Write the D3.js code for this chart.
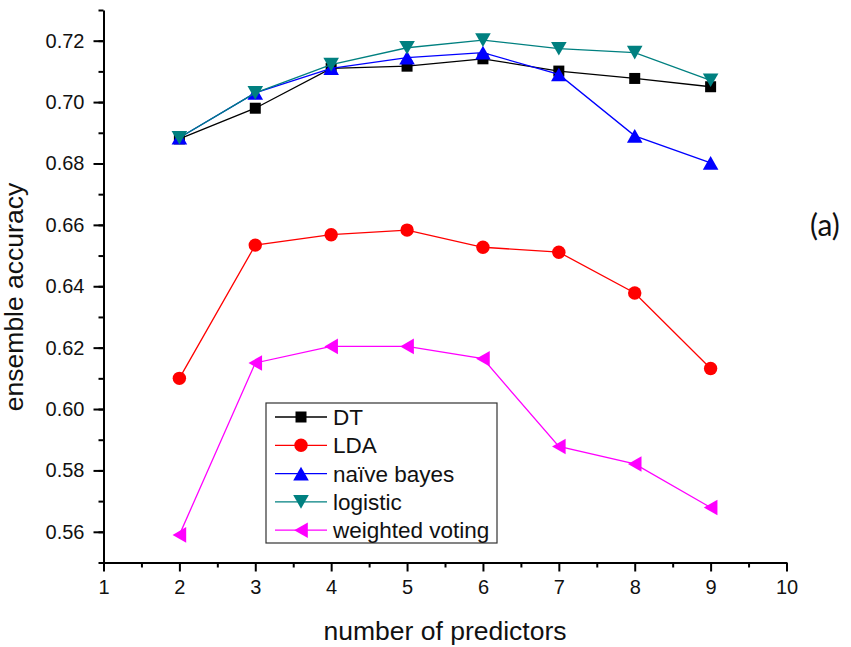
<!DOCTYPE html>
<html>
<head>
<meta charset="utf-8">
<script src="https://cdn.jsdelivr.net/npm/d3@7"></script>
<style>
	body { margin: 0; background: #fff; }
	svg { display: block; font-family: "Liberation Sans", Arial, sans-serif; }
</style>
</head>
<body>
<svg class="viz" width="851" height="647"></svg>
<script>
// *** Chart data ***
const predictors = [2, 3, 4, 5, 6, 7, 8, 9];
const dtAcc       = [0.688, 0.698, 0.711, 0.7117, 0.7141, 0.7101, 0.7077, 0.705];
const ldaAcc      = [0.610, 0.6534, 0.6568, 0.6583, 0.6527, 0.6511, 0.6378, 0.6132];
const nbAcc       = [0.6884, 0.703, 0.711, 0.7145, 0.7161, 0.709, 0.689, 0.6802];
const logitAcc    = [0.6884, 0.703, 0.7122, 0.7177, 0.7202, 0.7174, 0.7161, 0.7071];
const votingAcc   = [0.559, 0.615, 0.6204, 0.6204, 0.6164, 0.5878, 0.5821, 0.5679];
const seriesNames = ["DT", "LDA", "na\u00efve bayes", "logistic", "weighted voting"];
const xTickLabels = [1, 2, 3, 4, 5, 6, 7, 8, 9, 10];
const yTickLabels = [0.56, 0.58, 0.60, 0.62, 0.64, 0.66, 0.68, 0.70, 0.72];

const series = [
	{ name: seriesNames[0], vals: dtAcc,     color: "#000000", shape: "square" },
	{ name: seriesNames[1], vals: ldaAcc,    color: "#ff0000", shape: "circle" },
	{ name: seriesNames[2], vals: nbAcc,     color: "#0000ff", shape: "up" },
	{ name: seriesNames[3], vals: logitAcc,  color: "#008080", shape: "down" },
	{ name: seriesNames[4], vals: votingAcc, color: "#ff00ff", shape: "left" }
];

let grph = d3.select(".viz");

let x = d3.scaleLinear().domain([1, 10]).range([103.5, 786.5]);
let y = d3.scaleLinear().domain([0.55, 0.73]).range([562.5, 10]);

// marker path, centred on its bounding box like Origin does
function marker(shape) {
	const w = 7.8, h = 6.8;
	if (shape === "square") return "M-5.5,-5.5H5.5V5.5H-5.5Z";
	if (shape === "circle") return "M-6.7,0A6.7,6.7 0 1,0 6.7,0A6.7,6.7 0 1,0 -6.7,0Z";
	if (shape === "up")   return "M0," + (-h) + "L" + w + "," + h + "L" + (-w) + "," + h + "Z";
	if (shape === "down") return "M0," + h + "L" + w + "," + (-h) + "L" + (-w) + "," + (-h) + "Z";
	return "M" + (-h) + ",0L" + h + "," + (-w) + "L" + h + "," + w + "Z";
}

// *** Axes ***
let fmt = d3.format(".2f");

let yMinor = grph.append("g").attr("transform", "translate(103.5,0)")
	.call(d3.axisLeft(y).tickValues(d3.range(55, 74).map(d => d / 100)).tickSize(5).tickFormat(""));
let yMajor = grph.append("g").attr("transform", "translate(103.5,0)")
	.call(d3.axisLeft(y).tickValues(yTickLabels).tickSize(10).tickSizeOuter(0).tickPadding(9).tickFormat(fmt));

let xMinor = grph.append("g").attr("transform", "translate(0,562.5)")
	.call(d3.axisBottom(x).tickValues(d3.range(1.5, 10, 1)).tickSize(5).tickFormat(""));
let xMajor = grph.append("g").attr("transform", "translate(0,562.5)")
	.call(d3.axisBottom(x).tickValues(xTickLabels).tickSize(9).tickSizeOuter(0).tickPadding(8));

[yMinor, yMajor, xMinor, xMajor].forEach(a => {
	a.selectAll("path.domain").attr("stroke", "#000").attr("stroke-width", 2);
	a.selectAll(".tick line").attr("stroke", "#000").attr("stroke-width", 2);
	a.selectAll(".tick text").attr("fill", "#111").style("font-size", "20px")
		.style("font-family", "'Liberation Sans', Arial, sans-serif");
});
yMinor.select("path.domain").remove();
xMinor.select("path.domain").remove();
xMajor.selectAll(".tick text").attr("dy", "0.71em");

// axis titles
grph.append("text")
	.attr("transform", "translate(23,297)rotate(-90)")
	.attr("text-anchor", "middle")
	.style("font-size", "26.5px")
	.attr("fill", "#111")
	.text("ensemble accuracy");

grph.append("text")
	.attr("x", 445).attr("y", 640)
	.attr("text-anchor", "middle")
	.style("font-size", "26.5px")
	.attr("fill", "#111")
	.text("number of predictors");

grph.append("text")
	.attr("x", 810).attr("y", 236)
	.style("font-family", "Lato, 'Open Sans', sans-serif")
	.style("font-size", "30px")
	.attr("fill", "#111")
	.text("(a)");

// *** Series ***
let line = d3.line()
	.x((d, i) => x(predictors[i]))
	.y(d => y(d));

series.forEach(s => {
	let g = grph.append("g");
	g.append("path")
		.attr("d", line(s.vals))
		.attr("fill", "none")
		.attr("stroke", s.color)
		.attr("stroke-width", 1.3);
	g.selectAll("path.mk").data(s.vals).enter().append("path")
		.attr("class", "mk")
		.attr("transform", (d, i) => "translate(" + x(predictors[i]) + "," + y(d) + ")")
		.attr("d", marker(s.shape))
		.attr("fill", s.color);
});

// *** Legend ***
let lgnd = grph.append("g");
lgnd.append("rect")
	.attr("x", 266).attr("y", 403)
	.attr("width", 231).attr("height", 140)
	.attr("fill", "#fff")
	.attr("stroke", "#333")
	.attr("stroke-width", 1.2);

series.forEach((s, i) => {
	let ry = 417 + i * 28.3;
	lgnd.append("line")
		.attr("x1", 275).attr("x2", 327)
		.attr("y1", ry).attr("y2", ry)
		.attr("stroke", s.color)
		.attr("stroke-width", 1.3);
	lgnd.append("path")
		.attr("transform", "translate(301," + ry + ")")
		.attr("d", marker(s.shape))
		.attr("fill", s.color);
	lgnd.append("text")
		.attr("x", 333).attr("y", ry + 8)
		.style("font-size", "22.5px")
		.attr("fill", "#111")
		.text(s.name);
});
</script>
</body>
</html>
